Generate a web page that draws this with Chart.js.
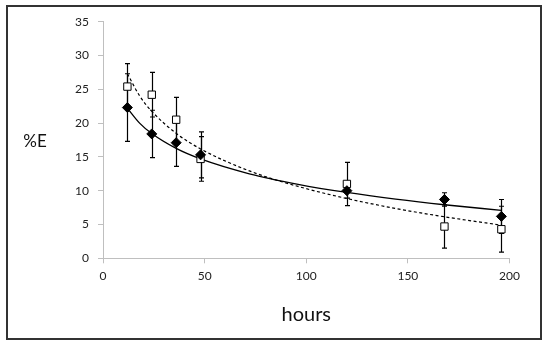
<!DOCTYPE html>
<html>
<head>
<meta charset="utf-8">
<script src="https://cdn.jsdelivr.net/npm/chart.js@4"></script>
<style>
  html, body { margin: 0; padding: 0; background: #fff; }
  #wrap { width: 550px; height: 345px; position: relative; }
</style>
</head>
<body>
<div id="wrap"><canvas id="chart" width="550" height="345"></canvas></div>
<script>
// measured points (hours, %E) and error half-widths
const hours = [12, 24, 36, 48, 120, 168, 196];
const seriesA = [22.3, 18.4, 17.1, 15.3, 10.0, 8.7, 6.2];   // filled diamonds
const errorsA = [5.0, 3.5, 3.5, 3.4, 1.1, 1.0, 2.5];
const seriesB = [25.4, 24.2, 20.5, 14.7, 11.0, 4.7, 4.3];   // open squares
const errorsB = [3.4, 3.3, 3.3, 3.3, 3.2, 3.2, 3.4];

// trend curves
const trendHours = [12, 18, 24, 36, 48, 72, 96, 120, 144, 168, 196];
const trendA = [22.2, 20.0, 18.45, 16.25, 14.7, 12.5, 10.95, 9.74, 8.75, 7.92, 7.1];
const trendB = [27.3, 24.05, 21.74, 18.49, 16.18, 12.93, 10.63, 8.84, 7.37, 6.14, 4.9];

const xTicks = [0, 50, 100, 150, 200];
const yTicks = [0, 5, 10, 15, 20, 25, 30, 35];

const toXY = (xs, ys) => xs.map((x, i) => ({ x: x, y: ys[i] }));

const axisGray = '#bfbfbf';
const tickFont = { family: 'Lato', size: 12 };

const extras = {
    id: 'extras',
    beforeDatasetsDraw(chart) {
        const ctx = chart.ctx;
        const xs = chart.scales.x, ys = chart.scales.y;
        ctx.save();
        ctx.strokeStyle = '#000';
        ctx.lineWidth = 1.2;
        [[seriesA, errorsA], [seriesB, errorsB]].forEach(([vals, errs]) => {
            hours.forEach((h, i) => {
                const px = Math.round(xs.getPixelForValue(h)) + 0.5;
                const top = ys.getPixelForValue(vals[i] + errs[i]);
                const bot = ys.getPixelForValue(vals[i] - errs[i]);
                ctx.beginPath();
                ctx.moveTo(px, top); ctx.lineTo(px, bot);
                ctx.moveTo(px - 2.5, top); ctx.lineTo(px + 2.5, top);
                ctx.moveTo(px - 2.5, bot); ctx.lineTo(px + 2.5, bot);
                ctx.stroke();
            });
        });
        ctx.restore();
    },
    afterDraw(chart) {
        const ctx = chart.ctx;
        const area = chart.chartArea;
        ctx.save();
        // outer frame
        ctx.strokeStyle = '#333';
        ctx.lineWidth = 2;
        ctx.strokeRect(7, 6, 534, 333);
        // axis titles
        ctx.fillStyle = '#111';
        ctx.textAlign = 'center';
        ctx.textBaseline = 'middle';
        ctx.font = '17px Lato';
        ctx.fillText('%E', 35, 142);
        ctx.font = '20px Lato';
        ctx.fillText('hours', (area.left + area.right) / 2, 315);
        ctx.restore();
    }
};

new Chart(document.getElementById('chart'), {
    type: 'scatter',
    data: {
        datasets: [
            {
                label: 'trend A',
                data: toXY(trendHours, trendA),
                showLine: true,
                borderColor: '#000',
                borderWidth: 1.3,
                pointRadius: 0,
                cubicInterpolationMode: 'monotone',
                order: 3
            },
            {
                label: 'trend B',
                data: toXY(trendHours, trendB),
                showLine: true,
                borderColor: '#000',
                borderWidth: 1.2,
                borderDash: [3, 2.5],
                pointRadius: 0,
                cubicInterpolationMode: 'monotone',
                order: 4
            },
            {
                label: 'A',
                data: toXY(hours, seriesA),
                pointStyle: 'rectRot',
                pointRadius: 5,
                backgroundColor: '#000',
                borderColor: '#000',
                borderWidth: 1,
                order: 1
            },
            {
                label: 'B',
                data: toXY(hours, seriesB),
                pointStyle: 'rect',
                pointRadius: 5.2,
                backgroundColor: '#fff',
                borderColor: '#000',
                borderWidth: 1,
                order: 2
            }
        ]
    },
    options: {
        responsive: false,
        animation: false,
        devicePixelRatio: 1,
        layout: { padding: { left: 0, right: 40.5, top: 21.7, bottom: 0 } },
        plugins: {
            legend: { display: false },
            tooltip: { enabled: false }
        },
        scales: {
            x: {
                type: 'linear',
                min: 0, max: 200,
                afterBuildTicks: (scale) => { scale.ticks = xTicks.map(v => ({ value: v })); },
                afterFit: (scale) => { scale.height = 86.7; },
                border: { color: axisGray, width: 1 },
                grid: { drawOnChartArea: false, drawTicks: true, tickLength: 5, color: axisGray },
                ticks: { font: tickFont, color: '#222', padding: 6, maxRotation: 0 }
            },
            y: {
                type: 'linear',
                min: 0, max: 35,
                afterBuildTicks: (scale) => { scale.ticks = yTicks.map(v => ({ value: v })); },
                afterFit: (scale) => { scale.width = 103; },
                border: { color: axisGray, width: 1 },
                grid: { drawOnChartArea: false, drawTicks: true, tickLength: 5, color: axisGray },
                ticks: { font: tickFont, color: '#222', padding: 9 }
            }
        }
    },
    plugins: [extras]
});
</script>
</body>
</html>
